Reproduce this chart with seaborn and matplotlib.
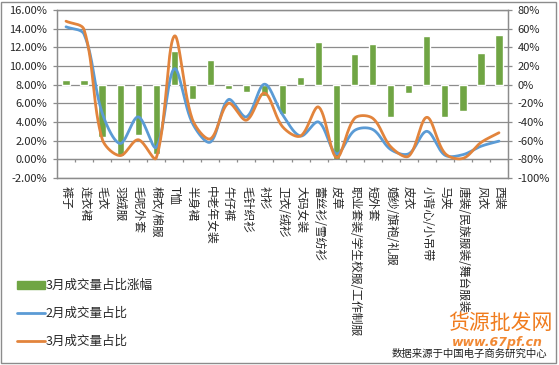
import numpy as np
import pandas as pd
import matplotlib
matplotlib.use('Agg')
import matplotlib.pyplot as plt
import seaborn as sns
from matplotlib.patches import Patch, Rectangle
from matplotlib.lines import Line2D

# --- data ---
categories = ['裤子', '连衣裙', '毛衣', '羽绒服', '毛呢外套', '棉衣/棉服', 'T恤', '半身裙',
              '中老年女装', '牛仔裤', '毛针织衫', '衬衫', '卫衣/绒衫', '大码女装', '蕾丝衫/雪纺衫',
              '皮草', '职业套装/学生校服/工作制服', '短外套', '婚纱/旗袍/礼服', '皮衣',
              '小背心/小吊带', '马夹', '唐装/民族服装/舞台服装', '风衣', '西装']
# 3月成交量占比涨幅 (%), right axis
growth = [5, 5, -56, -76, -54, -74, 36, -15, 26, -5, -7.5, -12, -31, 8.5, 46,
          -81, 33, 44, -35, -9, 52, -35, -28.5, 34, 53]
# 2月成交量占比 (%), left axis
feb_share = [14.2, 13.4, 5.0, 1.7, 4.55, 1.3, 9.7, 3.9, 1.85, 6.4, 4.55, 8.05, 4.8, 2.5, 4.0,
             0.6, 3.1, 3.2, 1.05, 0.6, 3.0, 0.45, 0.5, 1.4, 1.95]
# 3月成交量占比 (%), left axis
mar_share = [14.8, 13.9, 2.2, 0.4, 2.1, 0.15, 13.2, 4.3, 2.2, 6.0, 4.2, 7.1, 3.5, 2.5, 5.6,
             0.2, 4.4, 4.4, 1.35, 0.35, 4.5, 0.65, 0.1, 1.8, 2.85]

left_ticks = np.arange(-2, 17, 2)
right_ticks = np.arange(-100, 81, 20)

GREEN = '#70A544'
BLUE = '#5B9BD5'
ORANGE = '#E2843C'
GRID = '#8C8C8C'

PX_X = 451 / 25   # screen pixels per category
PX_Y = 168 / 18   # screen pixels per percent (left axis)


def smooth(xs, ys, n=30):
    # Excel-like smoothed line: cubic Bezier segments, control points scaled
    # by neighbouring segment lengths measured on screen
    p = np.column_stack([np.asarray(xs) * PX_X, np.asarray(ys) * PX_Y]).astype(float)
    p = np.vstack([p[0], p, p[-1]])
    t = np.linspace(0, 1, n, endpoint=False)[:, None]
    out = []
    for i in range(1, len(p) - 2):
        p0, p1, p2, p3 = p[i - 1], p[i], p[i + 1], p[i + 2]
        d01 = np.linalg.norm(p1 - p0)
        d12 = np.linalg.norm(p2 - p1)
        d23 = np.linalg.norm(p3 - p2)
        c1 = p1 + (p2 - p0) * d12 / (3 * (d01 + d12)) if d01 + d12 > 0 else p1
        c2 = p2 - (p3 - p1) * d12 / (3 * (d12 + d23)) if d12 + d23 > 0 else p2
        out.append((1 - t) ** 3 * p1 + 3 * (1 - t) ** 2 * t * c1 + 3 * (1 - t) * t ** 2 * c2 + t ** 3 * p2)
    out.append(p[-2][None, :])
    out = np.vstack(out)
    return out[:, 0] / PX_X, out[:, 1] / PX_Y


sns.set_theme(style='white')
plt.rcParams['font.family'] = ['Noto Sans CJK SC', 'DejaVu Sans']

fig = plt.figure(figsize=(5.59, 3.65), dpi=100)
ax = fig.add_axes([57 / 559, 1 - 178 / 365, 451 / 559, 168 / 365])
ax2 = ax.twinx()

df = pd.DataFrame({'cat': categories, 'growth': growth})
sns.barplot(data=df, x='cat', y='growth', order=categories, color=GREEN, saturation=1,
            width=0.4, ax=ax2, zorder=2)

xs = np.arange(len(categories))
fx, fy = smooth(xs, feb_share)
mx, my = smooth(xs, mar_share)
ax.plot(fx, fy, color=BLUE, lw=2.0, solid_capstyle='round', zorder=3)
ax.plot(mx, my, color=ORANGE, lw=2.0, solid_capstyle='round', zorder=4)

# lines above the bars
ax.set_zorder(ax2.get_zorder() + 1)
ax.patch.set_visible(False)

ax.set_xlim(-0.5, len(categories) - 0.5)
ax.set_ylim(-2, 16)
ax2.set_ylim(-100, 80)

ax.set_yticks(left_ticks, [f'{v:.2f}%' for v in left_ticks])
ax2.set_yticks(right_ticks, [f'{v}%' for v in right_ticks])
ax2.grid(axis='y', color=GRID, lw=0.9)
ax2.set_axisbelow(True)
ax.grid(False)

ax.set_xticks(xs, categories, rotation=-90, ha='center', va='top')
ax.tick_params(axis='x', length=0, pad=6, labelsize=8.5)
ax2.tick_params(axis='x', length=0)
ax.tick_params(axis='y', length=3, width=0.9, color=GRID, pad=4, labelsize=8, direction='out')
ax2.tick_params(axis='y', length=3, width=0.9, color=GRID, pad=4, labelsize=8, direction='out')
for a in (ax, ax2):
    a.set_xlabel('')
    a.set_ylabel('')
    for s in a.spines.values():
        s.set_color(GRID)
        s.set_linewidth(0.9)

# category axis at 0% with tick marks between categories
ax.axhline(0, color=GRID, lw=0.9, zorder=1)
ax.vlines(np.arange(len(categories)) + 0.5, -0.3, 0, color=GRID, lw=0.9, zorder=1)

# legend
handles = [Patch(color=GREEN), Line2D([], [], color=BLUE, lw=2), Line2D([], [], color=ORANGE, lw=2)]
labels = ['3月成交量占比涨幅', '2月成交量占比', '3月成交量占比']
fig.legend(handles, labels, loc='upper left', bbox_to_anchor=(12 / 559, 1 - 274 / 365),
           frameon=False, handlelength=2.2, handleheight=0.6, handletextpad=0.1,
           labelspacing=1.2, fontsize=9, borderaxespad=0)

# source note and watermark
fig.text(392 / 559, 1 - 357 / 365, '数据来源于中国电子商务研究中心', fontsize=7.5, color='#222222')
fig.text(448 / 559, 1 - 329 / 365, '货源批发网', fontsize=15, color='#F07C1E', style='italic')
fig.text(452 / 559, 1 - 346 / 365, 'www.67pf.cn', fontsize=9, color='#F07C1E',
         fontweight='bold', style='italic', family='DejaVu Sans', alpha=0.9)

# chart border
fig.patches.append(Rectangle((1 / 559, 2 / 365), 555 / 559, 361 / 365, transform=fig.transFigure,
                             fill=False, edgecolor='#8C8C8C', lw=1))

fig.savefig('out.png', dpi=100)
